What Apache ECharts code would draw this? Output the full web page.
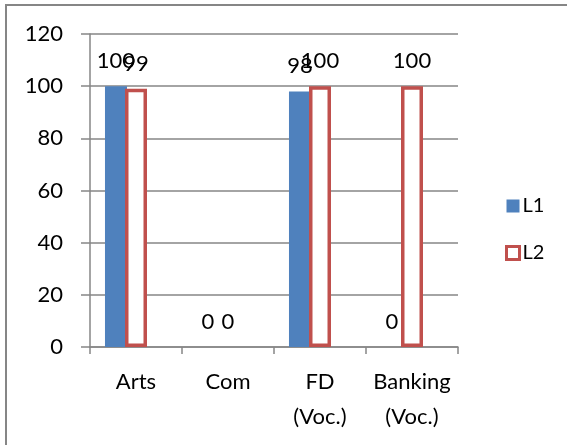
<!DOCTYPE html>
<html>
<head>
<meta charset="utf-8">
<script src="https://cdn.jsdelivr.net/npm/echarts@6/dist/echarts.min.js"></script>
<style>
  html, body { margin: 0; padding: 0; background: #fff; }
  #chart { width: 567px; height: 445px; }
</style>
</head>
<body>
<div id="chart"></div>
<script>
const categories = ['Arts', 'Com', 'FD\n(Voc.)', 'Banking\n(Voc.)']
const l1Values = [100, 0, 98, 0]
const l2Values = [99, 0, 100, 100]
const yTicks = { min: 0, max: 120, interval: 20 }

const font = 'Lato'
const gray = '#868686'
const fs = 22

// zero-height L2 bars draw no outline in the reference
const l2Data = l2Values.map(v => v === 0
  ? { value: v, itemStyle: { borderWidth: 0 } }
  : v)

const myChart = echarts.init(document.getElementById('chart'))
myChart.setOption({
  animation: false,
  textStyle: { fontFamily: font },
  graphic: [{
    type: 'rect',
    shape: { x: 6, y: 5, width: 620, height: 460 },
    style: { fill: 'none', stroke: gray, lineWidth: 2 },
    silent: true
  }],
  grid: { left: 90, right: 109, top: 34, bottom: 98 },
  legend: {
    orient: 'vertical',
    left: 500,
    top: 191,
    itemWidth: 13,
    itemHeight: 13,
    itemGap: 27,
    icon: 'rect',
    data: ['L1', { name: 'L2', itemStyle: { borderWidth: 3, color: '#fff', borderColor: '#c0504d' } }],
    textStyle: { fontFamily: font, fontSize: 20, color: '#000', padding: [0, 0, 0, -2] }
  },
  xAxis: {
    type: 'category',
    data: categories,
    axisLine: { lineStyle: { color: gray, width: 1.5 } },
    axisTick: { show: true, length: 7, lineStyle: { color: gray, width: 1.5 } },
    axisLabel: {
      color: '#000',
      fontFamily: font,
      fontSize: fs,
      margin: 17,
      lineHeight: 35,
      interval: 0
    }
  },
  yAxis: {
    type: 'value',
    min: yTicks.min,
    max: yTicks.max,
    interval: yTicks.interval,
    axisLine: { show: true, lineStyle: { color: gray, width: 1.5 } },
    axisTick: { show: true, length: 9, lineStyle: { color: gray, width: 1.5 } },
    splitLine: { lineStyle: { color: gray, width: 1.5 } },
    axisLabel: { color: '#000', fontFamily: font, fontSize: fs, margin: 27 }
  },
  series: [{
    name: 'L1',
    type: 'bar',
    data: l1Values,
    barWidth: 22,
    barGap: '-9%',
    itemStyle: { color: '#4f81bd' },
    label: { show: true, position: 'top', distance: 14, color: '#000', fontFamily: font, fontSize: fs }
  }, {
    name: 'L2',
    type: 'bar',
    data: l2Data,
    barWidth: 22,
    barGap: '-9%',
    itemStyle: { color: '#fff', borderColor: '#c0504d', borderWidth: 3.5 },
    label: { show: true, position: 'top', distance: 14, color: '#000', fontFamily: font, fontSize: fs }
  }, {
    // empty slot so L2 sits on the category centre like the original
    name: 'pad',
    type: 'bar',
    data: [],
    barWidth: 22,
    barGap: '-9%'
  }]
})
</script>
</body>
</html>
